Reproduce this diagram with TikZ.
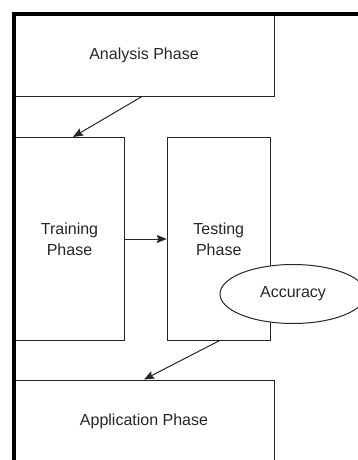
\documentclass[tikz,border=0pt]{standalone}
\usepackage{fontspec}
\setmainfont{Liberation Sans}
\usetikzlibrary{arrows.meta,shapes.geometric}
\definecolor{ink}{HTML}{262626}
\begin{document}
\begin{tikzpicture}[x=1pt,y=-1pt,
  phase/.style={draw=ink,line width=1pt,fill=white,rectangle,inner sep=0pt,
    align=center,text=ink,font=\fontsize{16}{21}\selectfont},
  flow/.style={draw=ink,line width=1pt,-{Stealth[length=10pt,width=8pt,inset=1.5pt]}},
  frame/.style={draw=black,line width=3.5pt}]
\useasboundingbox (0,0) rectangle (358,460);
\clip (0,0) rectangle (358,460);
% the four phases
\node[phase,minimum width=260pt,minimum height=82pt] (ana) at (144,55) {Analysis Phase};
\node[phase,minimum width=110.5pt,minimum height=203pt] (train) at (69.5,239) {Training\\Phase};
\node[phase,minimum width=103pt,minimum height=203pt] (test) at (218.75,239) {Testing\\Phase};
\node[phase,minimum width=260pt,minimum height=82pt] (app) at (144,421) {Application Phase};
% evaluation result
\node[phase,ellipse,minimum width=146pt,minimum height=59pt] (acc) at (293,294) {Accuracy};
% flow between phases
\draw[flow] ([xshift=-2pt]ana.south) -- ([xshift=3.5pt]train.north);
\draw[flow] (train.east) -- (test.west);
\draw[flow] (test.south) -- (app.north);
% page frame along the top and left
\coordinate (corner) at (14,14);
\coordinate (topend) at (370,14);
\coordinate (leftend) at (14,470);
\draw[frame] (topend) -- ([xshift=-1.75pt]corner);
\draw[frame] ([yshift=-1.75pt]corner) -- (leftend);
\end{tikzpicture}
\end{document}
